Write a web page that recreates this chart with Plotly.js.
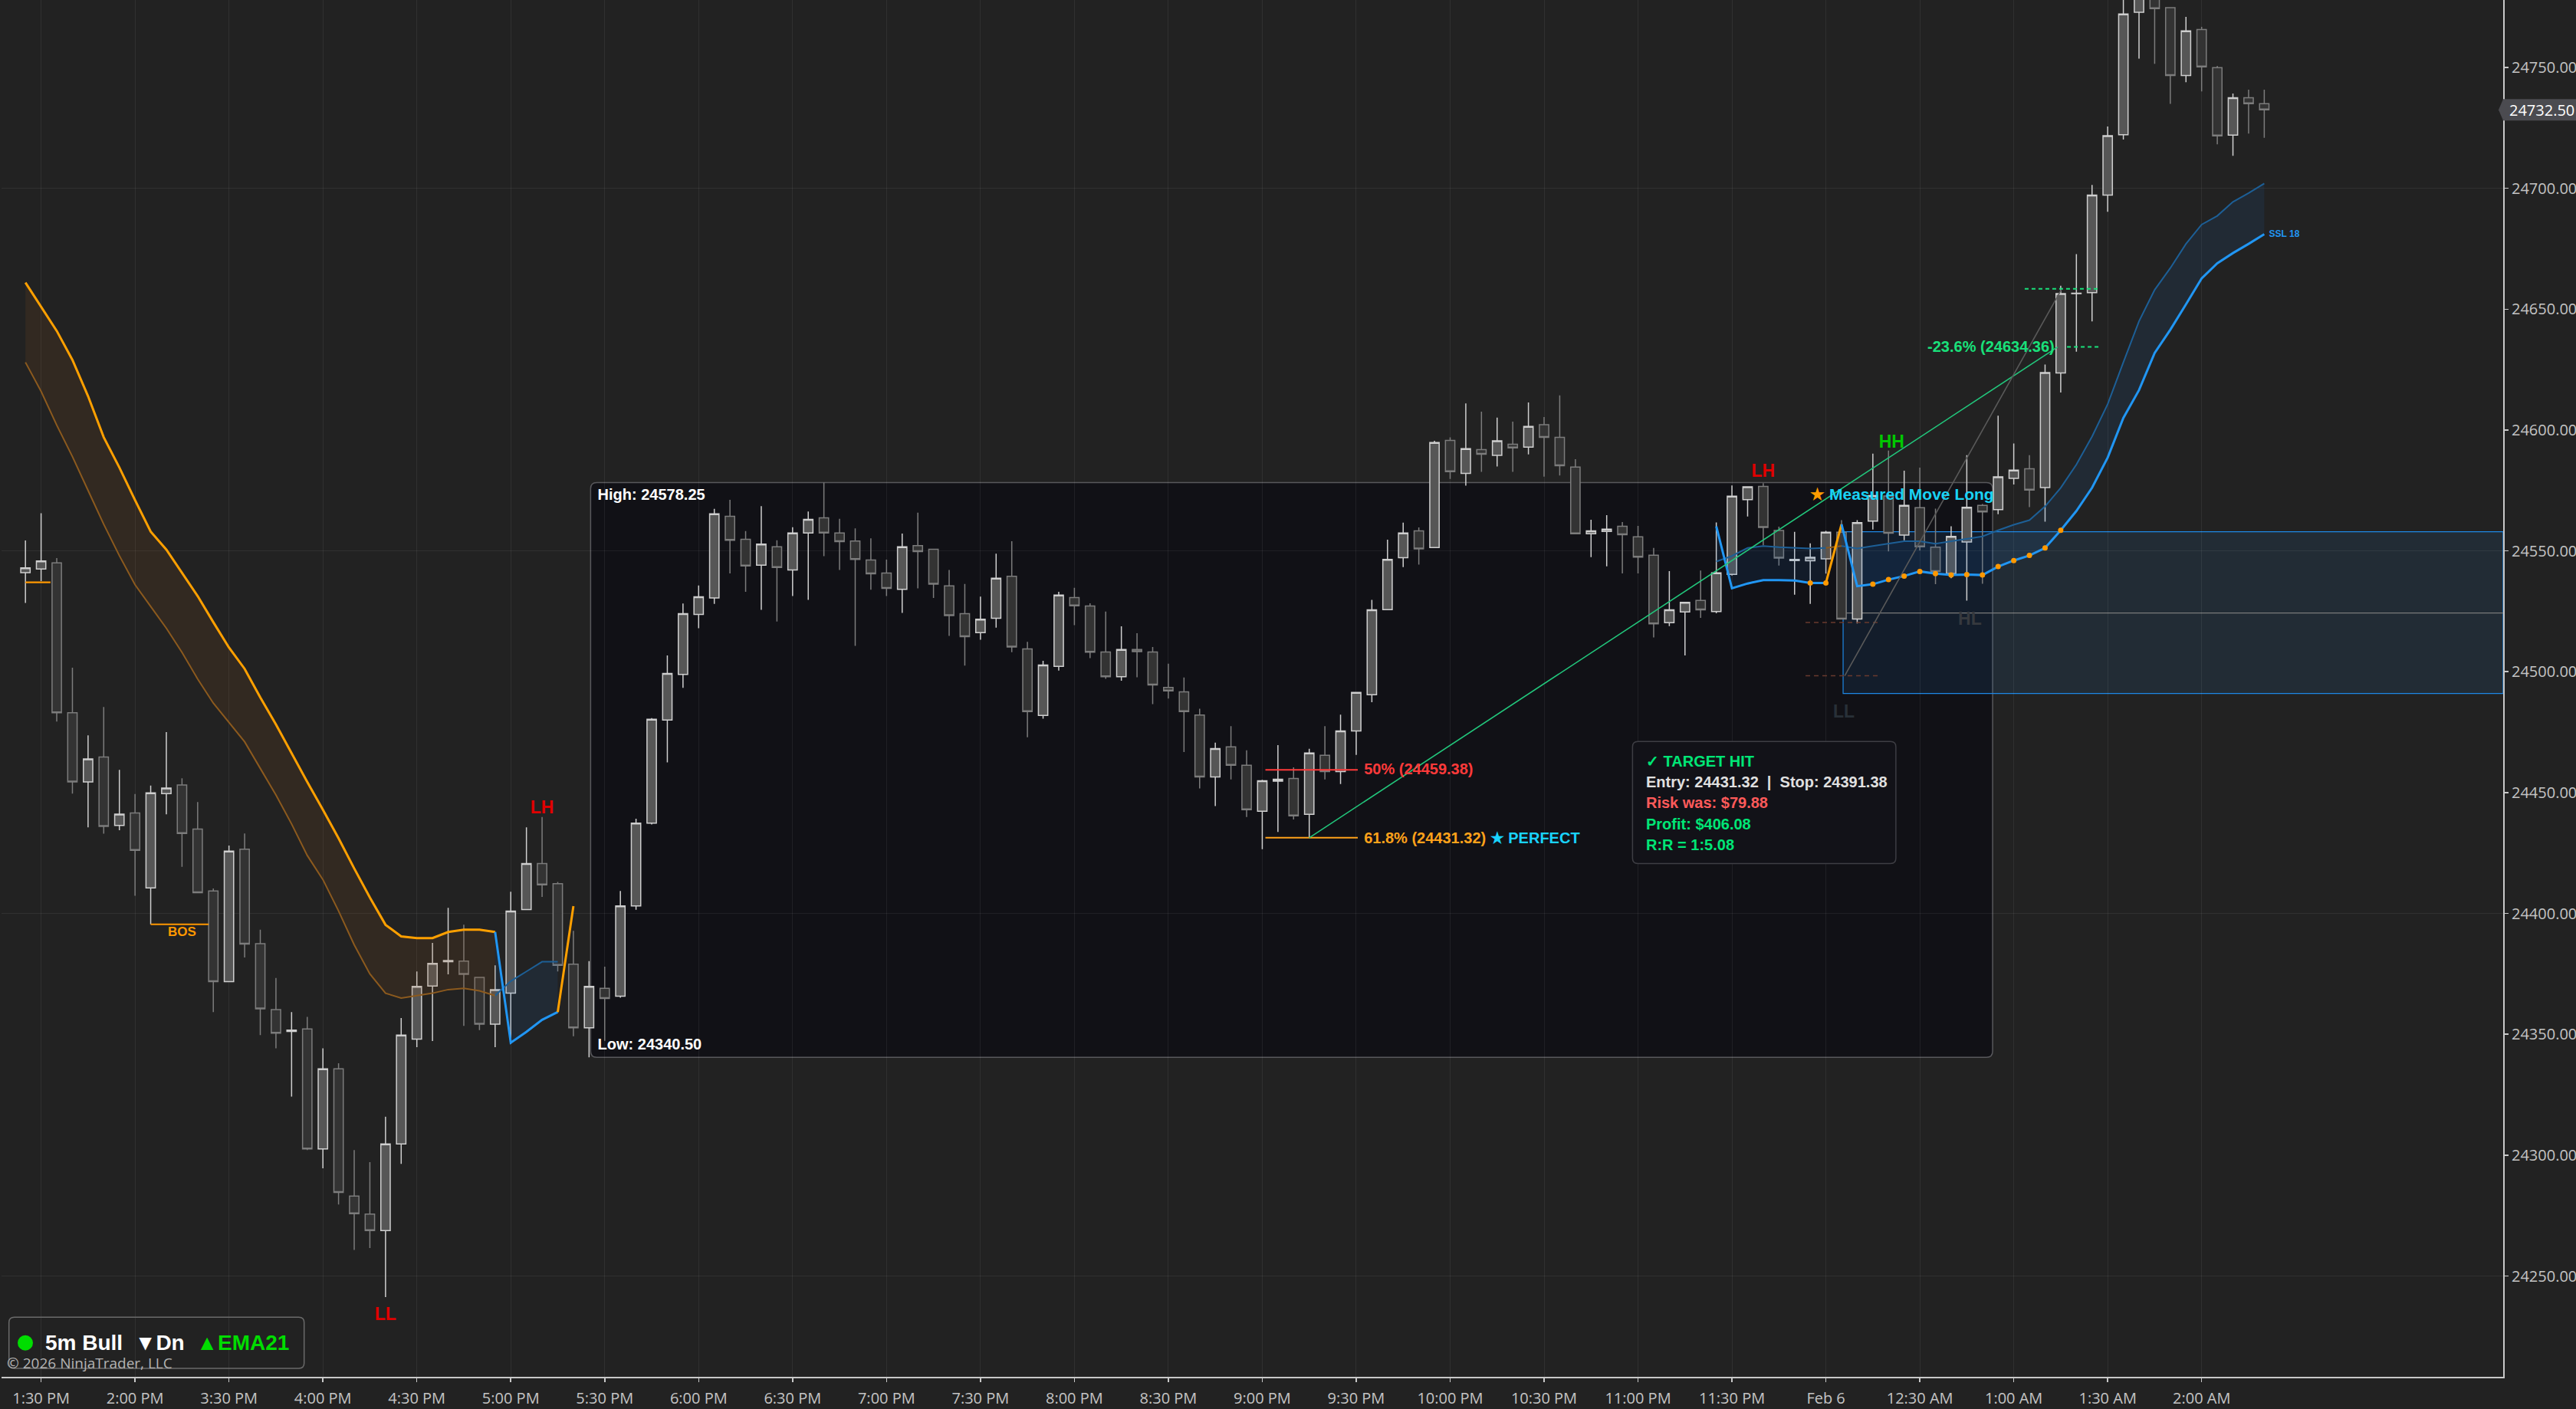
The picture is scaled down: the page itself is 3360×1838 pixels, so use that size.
<!DOCTYPE html>
<html><head><meta charset="utf-8">
<script src="https://cdn.plot.ly/plotly-3.0.1.min.js"></script>
<style>html,body{margin:0;padding:0;background:#222222;}#chart{width:3360px;height:1838px;}</style>
</head><body><div id="chart"></div>
<script>
// ---------- DATA ----------
const firstBar = -1; // bar index of first candle (1:30 PM = 0)
const openP = [
24541,24542.5,24545,24483,24454.4,24464.7,24436.4,24441.6,24410.6,24449.6,
24453.1,24434.9,24409.3,24371.8,24426.6,24387.5,24360.2,24351.2,24352.2,24302.6,
24335.7,24283.1,24275.6,24268.8,24304.6,24348,24370,24380,24380.3,24373.5,
24354.2,24367,24401.6,24420.6,24412.3,24379,24352.7,24369,24365.8,24403.1,
24437.4,24480,24498.9,24523.7,24530.5,24564.3,24554.8,24544.1,24551.7,24542.1,
24557.4,24563.7,24557.4,24554.1,24546.2,24540.8,24534.1,24552.2,24550.7,24535.5,
24524,24516.2,24522.1,24539.5,24509.4,24481.9,24502.2,24530.7,24527.2,24508.2,
24497.9,24509.2,24508.2,24493.5,24491.7,24482.1,24456.5,24468.9,24461.3,24442.3,
24454.7,24455.8,24441,24465.4,24458.7,24475.5,24490.5,24525.7,24547.2,24558.3,
24551.4,24595.7,24582.1,24591.9,24589.5,24594.1,24592.9,24602.2,24597,24584.7,
24557.1,24558,24560.2,24555.8,24548.2,24520.3,24524.7,24529.5,24524.9,24540.3,
24571.2,24576.7,24558.4,24546,24545.9,24546.7,24557.7,24521.8,24562.3,24572.7,
24556.5,24567.9,24551.5,24540.6,24553.7,24568.8,24567.1,24580,24584,24576.2,
24623.6,24656.4,24656.8,24697.2,24722.2,24772.8,24783,24774.7,24746.7,24765.7,
24749.9,24722,24737.5,24735];
const highP = [
24554.3,24565.6,24547,24501.7,24473.7,24485.4,24459.4,24449.4,24452.9,24475,
24455.9,24446.1,24410.3,24428.1,24433.1,24393.3,24373.3,24359.2,24357.2,24344.2,
24338,24302.1,24297.1,24315.9,24356.7,24376,24387.8,24402.3,24395.3,24373.5,
24378.5,24409,24435.6,24439.9,24413,24392.8,24380.3,24378,24409.3,24439.2,
24480.8,24506.7,24528.2,24535.7,24567.4,24571.1,24558.2,24568.5,24554.4,24559.8,
24566.3,24578.25,24563.3,24559.3,24555.2,24546.4,24557.2,24565.8,24550.7,24542.1,
24536.3,24531.1,24548.8,24554,24512.4,24504.5,24533.1,24534.7,24528.3,24524.9,
24518.8,24515.9,24510.2,24503.3,24497.6,24484.7,24470.7,24477.5,24467.5,24455.3,
24469.6,24460.4,24468.1,24477.5,24482.2,24491.7,24529.7,24554.6,24561.7,24559.7,
24595.5,24597,24611,24607.6,24605.1,24603.5,24611.4,24605.4,24614.3,24587.9,
24562.9,24564.8,24561.9,24560.3,24551.2,24541.6,24528.7,24541.9,24561.8,24577.1,
24576.5,24578,24560,24557.9,24553.1,24558.3,24562.7,24562.7,24590.2,24591.5,
24583.2,24584.4,24567.5,24560.2,24589.6,24569.4,24605.9,24594.4,24589.6,24627.1,
24659.7,24672.8,24701.4,24725.6,24790,24795,24792,24775,24770.9,24766.8,
24750.6,24739.2,24740.8,24740.8];
const lowP = [
24528.5,24537.5,24479.4,24449.6,24435.6,24433,24434.4,24407.3,24395.5,24441,
24419.3,24408.6,24359.2,24371.8,24381.8,24349.7,24344.2,24324.2,24302.1,24294.6,
24279.6,24260.8,24261.6,24241.3,24296.4,24344.7,24347.2,24374.8,24353.5,24351.7,
24344.7,24346,24401.6,24406.8,24376,24349.2,24340.5,24347.3,24365.1,24401.5,
24436.8,24462.5,24493.3,24518,24528.1,24540.7,24533.1,24525.6,24520.8,24531.3,
24529.7,24547.8,24542.1,24510.7,24533.9,24531.3,24524.3,24534.5,24530.5,24514.8,
24502.5,24513.2,24518.2,24508.1,24472.9,24480.6,24500.5,24519.3,24505.6,24497.1,
24496.3,24497.7,24486.6,24488.9,24466.8,24451.7,24444.4,24455.4,24439.9,24426.6,
24433.7,24438.9,24431.32,24455.4,24453.5,24465.6,24487.4,24525.7,24543.3,24544.3,
24551.4,24579.8,24577,24582.7,24584.9,24582.7,24589.9,24580.7,24581.2,24557.1,
24547.4,24543.6,24540.7,24540.7,24514.2,24518.9,24506.7,24522.3,24524.2,24539.8,
24564.2,24552.3,24543.9,24531.9,24528.1,24540.6,24521.8,24520,24558.8,24549.8,
24554.4,24550.2,24536.2,24538.7,24529.4,24536.4,24565.2,24577.5,24568.1,24562.1,
24615.5,24632.4,24644.9,24690.3,24720.2,24753.6,24751.5,24734.9,24743.9,24740.1,
24718.2,24713.4,24722.6,24720.9];
const closeP = [
24543,24545.8,24483,24454.4,24463.9,24436,24441.1,24426.1,24449.9,24451.9,
24433.1,24408.6,24371.8,24425.8,24387.3,24360.5,24350.5,24351.7,24302.6,24335.7,
24284.6,24275.8,24268.8,24304.6,24349.7,24369.8,24379.3,24380.5,24374.8,24354.2,
24368.5,24401,24420.6,24411.8,24378.5,24352.7,24369.8,24364.8,24403.1,24437.4,
24480.3,24499.3,24524,24531,24565.3,24554.4,24543.8,24552.8,24543.1,24557.4,
24563,24557.4,24553.8,24546.5,24540.5,24534.5,24551.7,24549.7,24536.2,24523.2,
24514.5,24521.7,24538.7,24510.2,24483.5,24502.8,24531.7,24527.3,24508.1,24497.9,
24509.2,24508.3,24494.5,24492.1,24483.5,24456.5,24468.2,24461.3,24442.9,24454.9,
24455.5,24440.4,24466.4,24458.7,24475.5,24491.4,24525.6,24546.5,24557.4,24550.8,
24594.8,24582.8,24592.3,24590,24595.5,24592.6,24601.5,24597,24585.2,24557.1,
24558.3,24559,24556.7,24547.4,24519.8,24525.6,24528.7,24525.6,24540.9,24572.6,
24576.5,24559.7,24547,24546.5,24547.3,24557.7,24521.8,24561.7,24572.9,24557.3,
24568.8,24551.7,24541.5,24556,24568,24566.1,24580.6,24583.4,24575.2,24623.8,
24656.4,24656.6,24697.2,24721.8,24772.1,24784,24774.3,24746.7,24765.1,24750.2,
24721.7,24737.5,24735,24732.5];

const tickBars   = [0,6,12,18,24,30,36,42,48,54,60,66,72,78,84,90,96,102,108,114,120,126,132,138];
const tickLabels = ['1:30 PM','2:00 PM','3:30 PM','4:00 PM','4:30 PM','5:00 PM','5:30 PM','6:00 PM','6:30 PM','7:00 PM','7:30 PM','8:00 PM','8:30 PM','9:00 PM','9:30 PM','10:00 PM','10:30 PM','11:00 PM','11:30 PM','Feb 6','12:30 AM','1:00 AM','1:30 AM','2:00 AM'];
const priceTicks = [24250,24300,24350,24400,24450,24500,24550,24600,24650,24700,24750];
const gridPrices = [24250,24400,24550,24700];

// SSL channel, first segment (bars -1..34)
const sslAIdx = [-1,0,1,2,3,4,5,6,7,8,9,10,11,12,13,14,15,16,17,18,19,20,21,22,23,24,25,26,27,28,29,30,31,32,33,34];
const sslAMain = [24661,24651,24641,24629,24614,24597,24584.5,24571,24558,24550.5,24541,24531.3,24520.5,24510,24501.2,24489.4,24478.2,24466.2,24454.4,24442.9,24431.1,24418.6,24406.6,24395.3,24390.5,24389.8,24389.8,24392.3,24393.3,24393.3,24392.3,24346.5,24351,24356,24359.2,24403];
const sslAOther = [24628,24616,24602,24589,24575,24561,24548,24536,24527,24518,24508,24497,24487,24479,24471,24460,24449,24437,24424,24414,24401,24387,24375,24367,24365,24366,24367,24368.5,24369,24368,24366,24372,24376,24380,24380,null];
const sslADir = ['o','o','o','o','o','o','o','o','o','o','o','o','o','o','o','o','o','o','o','o','o','o','o','o','o','o','o','o','o','o','o','b','b','b','b','o'];
// SSL channel, second segment (bars 107..142)
const sslBIdx = [107,108,109,110,111,112,113,114,115,116,117,118,119,120,121,122,123,124,125,126,127,128,129,130,131,132,133,134,135,136,137,138,139,140,141,142];
const sslBMain = [24560.1,24534.5,24536.5,24537.9,24537.9,24537.7,24536.7,24536.7,24561,24535.4,24536.2,24538.1,24539.6,24541.5,24540.6,24540,24540.2,24540,24543.5,24546,24548.1,24551.2,24558.5,24566.5,24576.1,24588.6,24605,24616.5,24631.9,24641.5,24652,24662.7,24669,24673.2,24677,24681];
const sslBOther = [24545.6,24547.9,24551.2,24552,24551.5,24551.2,24551,24551.2,24552,24551,24552,24553,24554,24554,24553,24554,24555,24556,24558.5,24560.8,24562.7,24568.4,24576.1,24585.7,24597.3,24610.7,24628,24645,24658,24667,24677,24685,24688.6,24694.4,24698,24702];
const sslBDir = ['b','b','b','b','b','b','b','b','o','b','b','b','b','b','b','b','b','b','b','b','b','b','b','b','b','b','b','b','b','b','b','b','b','b','b','b'];
const sslDots = [113,114,117,118,119,120,121,122,123,124,125,126,127,128,129];
const sslName = 'SSL 18';

// session range box
const sessionHigh = 24578.25, sessionLow = 24340.50;
const sessionStart = 35.1, sessionEnd = 124.65;
// zone
const zoneStart = 115.1, zoneTop = 24557.9, zoneMid = 24524.3, zoneBottom = 24491.0;
// fib retracement
const fibNames = ['50%','61.8%'];
const fibPrices = [24459.38, 24431.32];
const fibColors = ['#ff3a3a','#ffa21a'];
const fibFrom = 78.2, fibTo = 84.1;
// trend / projection lines
const trendX = [81, 128.8], trendY = [24431.32, 24634.36];
const mmX = [115.2, 129.1], mmY = [24498.3, 24658.8];
const extPrices = [24658.4, 24634.36], extFrom = [126.7, 129.4], extTo = [131.5, 131.5];
const stopPrices = [24520.4, 24498.3], stopFrom = 112.7, stopTo = 117.4;
const bosPrice = 24395.5, bosFrom = 7, bosTo = 10.7;
const prevLevel = 24537, prevFrom = -1, prevTo = 0.6;
// swing labels
const swingText  = ['LH','LL','LH','HH'];
const swingBar   = [32, 22, 110, 118.2];
const swingPrice = [24443.3, 24233.5, 24582.3, 24594.4];
const swingColor = ['#e00000','#e00000','#e00000','#00c800'];
const fadedText  = ['HL','LL'];
const fadedBar   = [123.2, 115.15];
const fadedPrice = [24521.4, 24482.9];
// trade stats
const entryPrice = 24431.32, stopPrice = 24391.38, riskUsd = 79.88, profitUsd = 406.08, rrRatio = 5.08;
const lastPrice = closeP[closeP.length - 1];

// ---------- VIEW ----------
const xMin = -2.527, xMax = 157.26;
const yMin = 24208.3, yMax = 24777.9;
const GRID = 'rgba(255,255,255,0.065)';
const BOLD = 'Liberation Sans, Arial, sans-serif';
const REG = 'Open Sans, Noto Sans, sans-serif';

const barIdx = openP.map((_, k) => firstBar + k);
const traces = [];

// dummy trace for the grid axis
traces.push({x:[null], y:[null], yaxis:'y2', mode:'lines', hoverinfo:'skip', showlegend:false});

const COL = {
  o: {main:'#ffa000', other:'#8c5a1e', fill:'rgba(150,85,25,0.14)', w:3},
  b: {main:'#2196f3', other:'#1d5f96', fill:'rgba(30,110,200,0.11)', w:3}
};
function colorRuns(dir){
  const out=[]; let a=0;
  for(let k=1;k<dir.length;k++){
    const last = (k===dir.length-1) || (dir[k+1]!==dir[k]);
    if(last){ out.push({a:a,b:k,c:dir[k]}); a=k; }
  }
  return out;
}
function addSSL(idx, main, other, dir){
  const runs = colorRuns(dir);
  runs.forEach(r=>{
    const xs=[], ys=[]; let ok=true;
    for(let k=r.a;k<=r.b;k++){ xs.push(idx[k]); ys.push(main[k]); }
    for(let k=r.b;k>=r.a;k--){ if(other[k]===null){ok=false;} xs.push(idx[k]); ys.push(other[k]); }
    if(ok) traces.push({x:xs,y:ys,mode:'lines',fill:'toself',fillcolor:COL[r.c].fill,line:{width:0},hoverinfo:'skip',showlegend:false});
  });
  runs.forEach(r=>{
    const xs=[], ys=[];
    for(let k=r.a;k<=r.b;k++){ if(other[k]!==null){xs.push(idx[k]); ys.push(other[k]);} }
    if(xs.length>1) traces.push({x:xs,y:ys,mode:'lines',line:{color:COL[r.c].other,width:2},hoverinfo:'skip',showlegend:false});
  });
  runs.forEach(r=>{
    traces.push({x:idx.slice(r.a,r.b+1),y:main.slice(r.a,r.b+1),mode:'lines',line:{color:COL[r.c].main,width:COL[r.c].w},hoverinfo:'skip',showlegend:false});
  });
}
addSSL(sslAIdx, sslAMain, sslAOther, sslADir);
addSSL(sslBIdx, sslBMain, sslBOther, sslBDir);

function seg(x0,x1,y0,y1,color,width,dash){
  traces.push({x:[x0,x1],y:[y0,y1],mode:'lines',line:{color:color,width:width,dash:dash||'solid'},hoverinfo:'skip',showlegend:false});
}
stopPrices.forEach(p=>seg(stopFrom,stopTo,p,p,'#6a3a2e',1.5,'6px,5px'));
seg(bosFrom,bosTo,bosPrice,bosPrice,'#ff9800',2.2);
seg(prevFrom,prevTo,prevLevel,prevLevel,'#ff9800',2.2);
fibPrices.forEach((p,k)=>seg(fibFrom,fibTo,p,p,fibColors[k],2));
seg(trendX[0],trendX[1],trendY[0],trendY[1],'#22c77c',1.6);
seg(mmX[0],mmX[1],mmY[0],mmY[1],'#5a5a5a',1.6);
extPrices.forEach((p,k)=>seg(extFrom[k],extTo[k],p,p,'#19e07a',2,'5px,4px'));

// text labels (beneath candles)
function txt(xs,ys,texts,pos,size,colors){
  traces.push({x:xs,y:ys,text:texts,mode:'text',textposition:pos,
    textfont:{family:BOLD,size:size,color:colors},hoverinfo:'skip',showlegend:false,cliponaxis:false});
}
txt(swingBar, swingPrice, swingText.map(t=>'<b>'+t+'</b>'), 'middle center', 23, swingColor);
txt(fadedBar, fadedPrice, fadedText.map(t=>'<b>'+t+'</b>'), 'middle center', 23, ['#36393e','#283038']);
txt([(bosFrom+bosTo)/2+0.15],[bosPrice-3.5],['<b>BOS</b>'],'middle center',17,['#ff9800']);
txt([sessionStart+0.45, sessionStart+0.45],[sessionHigh-5.5, sessionLow+4.9],
    ['<b>High: '+sessionHigh.toFixed(2)+'</b>','<b>Low: '+sessionLow.toFixed(2)+'</b>'],'middle right',20,['#ffffff','#ffffff']);
txt([fibTo+0.4, fibTo+0.4],[fibPrices[0]-0.3, fibPrices[1]-0.8],
    ['<b>'+fibNames[0]+' ('+fibPrices[0].toFixed(2)+')</b>',
     '<b>'+fibNames[1]+' ('+fibPrices[1].toFixed(2)+') <span style="color:#19d3ff">\u2605 PERFECT</span></b>'],
    'middle right',20,fibColors);
txt([trendX[1]-0.2],[extPrices[1]-0.5],['<b>-23.6% ('+extPrices[1].toFixed(2)+')</b>'],'middle left',20,['#19e07a']);
txt([113.0],[24572.7],['<b><span style="color:#ff9d00">\u2605</span> Measured Move Long</b>'],'middle right',21,['#19d3f5']);
txt([sslBIdx[sslBIdx.length-1]+0.3],[sslBMain[sslBMain.length-1]],['<b>'+sslName+'</b>'],'middle right',12,['#2196f3']);

// candles
traces.push({
  type:'candlestick', x:barIdx, open:openP, high:highP, low:lowP, close:closeP,
  increasing:{line:{color:'#cfcfcf',width:1.5},fillcolor:'#565656'},
  decreasing:{line:{color:'#7c7c7c',width:1.5},fillcolor:'#333333'},
  whiskerwidth:0, hoverinfo:'none', showlegend:false
});
// SSL dots
traces.push({x:sslDots, y:sslDots.map(i=>sslBMain[sslBIdx.indexOf(i)]), mode:'markers',
  marker:{color:'#ff9800',size:7}, hoverinfo:'skip', showlegend:false});

// ---------- SHAPES ----------
function roundRect(x0,x1,y0,y1,rx,ry){
  return 'M '+(x0+rx)+','+y1+' L '+(x1-rx)+','+y1+' Q '+x1+','+y1+' '+x1+','+(y1-ry)+
    ' L '+x1+','+(y0+ry)+' Q '+x1+','+y0+' '+(x1-rx)+','+y0+' L '+(x0+rx)+','+y0+
    ' Q '+x0+','+y0+' '+x0+','+(y0+ry)+' L '+x0+','+(y1-ry)+' Q '+x0+','+y1+' '+(x0+rx)+','+y1+' Z';
}
const pxX = (xMax-xMin)/3263, pxY = (yMax-yMin)/1796;
const shapes = [
  {type:'path', xref:'x', yref:'y', path:roundRect(sessionStart,sessionEnd,sessionLow,sessionHigh,8*pxX,8*pxY),
   fillcolor:'#111116', line:{color:'#58585c',width:1.5}, layer:'below'},
  {type:'rect', xref:'x', yref:'y', x0:zoneStart, x1:xMax, y0:zoneBottom, y1:zoneTop,
   fillcolor:'rgba(40,120,200,0.12)', line:{color:'#1e88e5',width:1.2}, layer:'below'},
  {type:'line', xref:'x', yref:'y', x0:zoneStart, x1:xMax, y0:zoneMid, y1:zoneMid,
   line:{color:'#7a7a7a',width:1.2}, layer:'below'},
  {type:'path', xref:'x', yref:'y', path:roundRect(101.65,118.47,24420.6,24471.1,7*pxX,7*pxY),
   fillcolor:'#121218', line:{color:'#3e3e44',width:1.5}, layer:'above'},
  {type:'path', xref:'paper', yref:'paper', path:roundRect(0.00297,0.12096,0.00612,0.04326,7/3263,7/1796),
   fillcolor:'rgba(0,0,0,0)', line:{color:'#6a6a6a',width:1.5}, layer:'above'},
  {type:'circle', xref:'paper', yref:'paper', xsizemode:'pixel', ysizemode:'pixel',
   xanchor:(33-2)/3263, yanchor:(1796-1751.7)/1796, x0:-10, x1:10, y0:-10, y1:10,
   fillcolor:'#00dd00', line:{width:0}, layer:'above'},
  {type:'path', xref:'paper', yref:'paper', xsizemode:'pixel', ysizemode:'pixel', xanchor:1,
   yanchor:(lastPrice-yMin)/(yMax-yMin), path:'M -6,0 L 0,14 L 96,14 L 96,-14 L 0,-14 Z',
   fillcolor:'#4b4b50', line:{width:0}, layer:'above'}
];

// ---------- ANNOTATIONS ----------
const infoLines = [
  ['\u2713 TARGET HIT', '#00e676'],
  ['Entry: '+entryPrice.toFixed(2)+'\u00a0\u00a0|\u00a0\u00a0Stop: '+stopPrice.toFixed(2), '#e0e0e0'],
  ['Risk was: $'+riskUsd.toFixed(2), '#ff5a5a'],
  ['Profit: $'+profitUsd.toFixed(2), '#00e676'],
  ['R:R = 1:'+rrRatio.toFixed(2), '#00e676']
];
const annotations = [];
infoLines.forEach((ln,k)=>{
  annotations.push({xref:'x', yref:'y', x:102.4, y:24463.1 - k*8.66, xanchor:'left', yanchor:'middle', showarrow:false,
    font:{family:BOLD,size:20,color:ln[1]}, text:'<b>'+ln[0]+'</b>'});
});
annotations.push(
  {xref:'paper', yref:'paper', x:(57-2)/3263, y:0.0247, xanchor:'left', yanchor:'middle', showarrow:false,
   font:{family:BOLD,size:28,color:'#ffffff'},
   text:'<b>5m Bull\u00a0\u00a0\u25BCDn\u00a0\u00a0<span style="color:#00dd00">\u25B2EMA21</span></b>'},
  {xref:'paper', yref:'paper', x:0.0015, y:0.010, xanchor:'left', yanchor:'middle', showarrow:false,
   font:{family:REG,size:19,color:'#b4b4b4'}, text:'\u00a9 2026 NinjaTrader, LLC'},
  {xref:'paper', yref:'y', x:1, xshift:6, y:lastPrice, xanchor:'left', yanchor:'middle', showarrow:false,
   font:{family:REG,size:20,color:'#ffffff'}, text:lastPrice.toFixed(2)}
);

const layout = {
  width:3360, height:1838, paper_bgcolor:'#222222', plot_bgcolor:'#222222',
  margin:{l:2, r:95, t:0, b:42}, showlegend:false, boxgap:0.4, boxgroupgap:0, hovermode:false,
  font:{family:REG, color:'#c4c4c4'},
  xaxis:{range:[xMin,xMax], tickmode:'array', tickvals:tickBars, ticktext:tickLabels,
    showgrid:true, gridcolor:GRID, gridwidth:1, zeroline:false,
    showline:true, linecolor:'#c8c8c8', linewidth:2, ticks:'outside', ticklen:5, tickwidth:1.5, tickcolor:'#c8c8c8',
    ticklabelstandoff:4,
    tickfont:{family:REG,size:20,color:'#c4c4c4'}, rangeslider:{visible:false}, fixedrange:true},
  yaxis:{side:'right', range:[yMin,yMax], tickmode:'array', tickvals:priceTicks, tickformat:'.2f',
    showgrid:false, zeroline:false, showline:true, linecolor:'#c8c8c8', linewidth:2,
    ticks:'outside', ticklen:5, tickwidth:1.5, tickcolor:'#c8c8c8',
    tickfont:{family:REG,size:20,color:'#c4c4c4'}, fixedrange:true},
  yaxis2:{overlaying:'y', side:'right', range:[yMin,yMax], tickmode:'array', tickvals:gridPrices,
    showticklabels:false, ticks:'', showgrid:true, gridcolor:GRID, zeroline:false, showline:false, fixedrange:true},
  shapes:shapes, annotations:annotations
};
Plotly.newPlot('chart', traces, layout, {staticPlot:true, displayModeBar:false});
</script></body></html>
